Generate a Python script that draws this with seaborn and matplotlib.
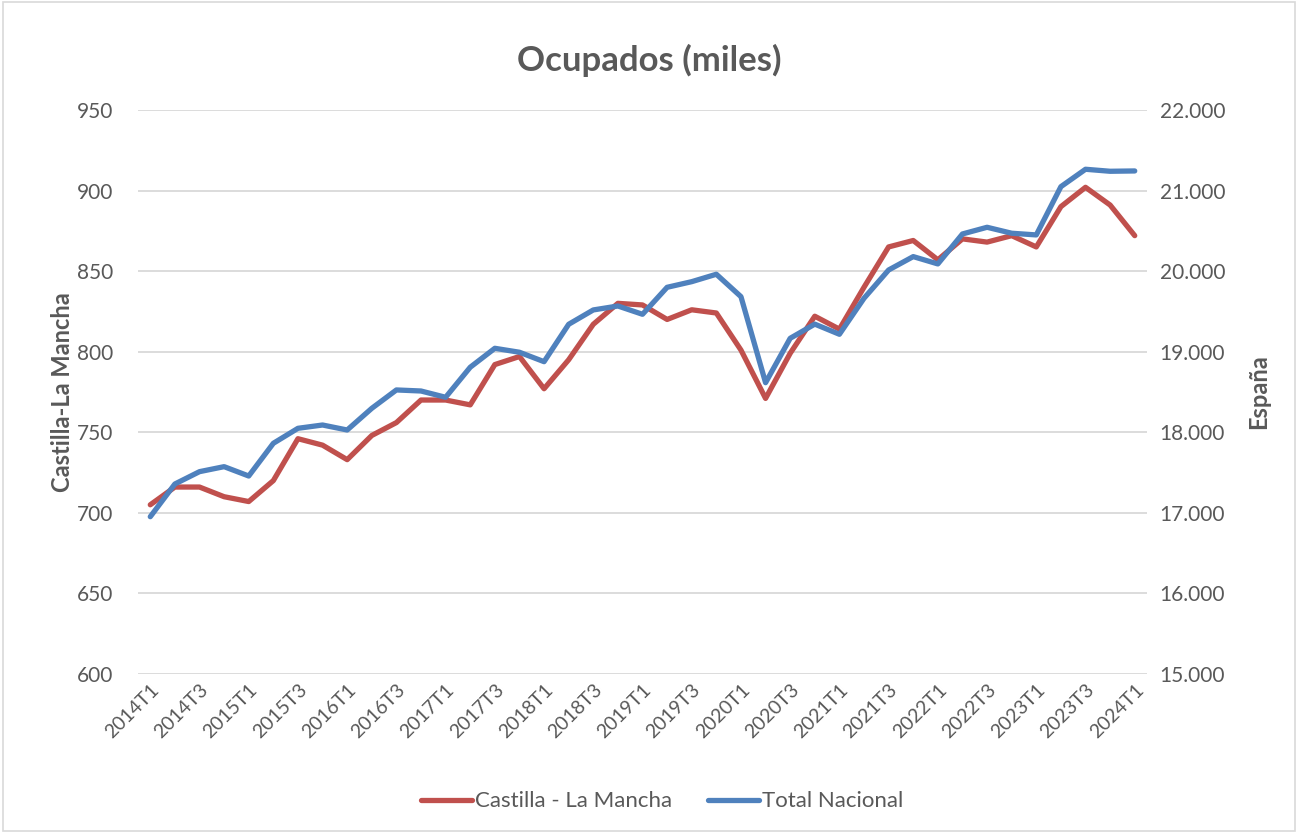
import numpy as np
import pandas as pd
import matplotlib
matplotlib.use('Agg')
import matplotlib.pyplot as plt
import seaborn as sns
from matplotlib.patches import Rectangle
from matplotlib.ticker import FuncFormatter

periodos = ['{}T{}'.format(a, t) for a in range(2014, 2025) for t in range(1, 5)][:41]
clm = [705, 716, 716, 710, 707, 720, 746, 742, 733, 748, 756, 770, 770, 767, 792,
       797, 777, 795, 817, 830, 829, 820, 826, 824, 801, 771, 799, 822, 814, 840,
       865, 869, 857, 870, 868, 872, 865, 890, 902, 891, 872]
nacional = [16952, 17358, 17511, 17573, 17457, 17863, 18049, 18090, 18028, 18297, 18525,
            18512, 18434, 18807, 19042, 18993, 18876, 19340, 19518, 19567, 19464, 19799,
            19869, 19961, 19683, 18615, 19166, 19342, 19216, 19663, 20014, 20180, 20089,
            20461, 20544, 20470, 20449, 21048, 21264, 21239, 21243]

df = pd.DataFrame({'periodo': periodos, 'clm': clm, 'nacional': nacional})
df['pos'] = np.arange(len(df))

sns.set_theme(style='white')
plt.rcParams['font.family'] = ['Lato', 'DejaVu Sans']
gris = '#595959'
rojo = '#C0504D'
azul = '#4F81BD'

fig = plt.figure(figsize=(12.98, 8.33), dpi=100)
ax = fig.add_axes([0.1063, 0.1909, 0.7774, 0.6771])
ax2 = ax.twinx()

sns.lineplot(data=df, x='pos', y='clm', ax=ax, color=rojo, linewidth=3.8,
             label='Castilla - La Mancha', legend=False)
sns.lineplot(data=df, x='pos', y='nacional', ax=ax2, color=azul, linewidth=3.8,
             label='Total Nacional', legend=False)

ax.set_xlim(-0.5, 40.5)
ax.set_ylim(600, 950)
ax2.set_ylim(15000, 22000)
ax.set_yticks(range(600, 951, 50))
ax2.set_yticks(range(15000, 22001, 1000))
ax2.yaxis.set_major_formatter(FuncFormatter(lambda v, p: '{:,.0f}'.format(v).replace(',', '.')))
ax.set_xticks(df['pos'][::2])
ax.set_xticklabels(df['periodo'][::2], rotation=45, ha='right', rotation_mode='anchor')

ax.grid(axis='y', color='#D9D9D9', linewidth=1.3)
ax.grid(axis='x', visible=False)
ax2.grid(False)
for a in (ax, ax2):
    for s in a.spines.values():
        s.set_visible(False)
    a.tick_params(length=0, labelsize=15, colors=gris, pad=9)
ax.tick_params(axis='y', pad=18)
ax.tick_params(axis='x', pad=5, labelsize=14)

ax.set_xlabel('')
ax.set_ylabel('Castilla-La Mancha', fontsize=17, fontweight='bold', color=gris, labelpad=2)
ax2.set_ylabel('España', fontsize=17, fontweight='bold', color=gris, labelpad=16)
ax.set_zorder(1)
ax2.set_zorder(2)
ax2.patch.set_visible(False)

fig.suptitle('Ocupados (miles)', y=0.947, fontsize=25, fontweight='bold', color=gris)

h1, l1 = ax.get_legend_handles_labels()
h2, l2 = ax2.get_legend_handles_labels()
fig.legend(h1 + h2, l1 + l2, loc='center', bbox_to_anchor=(0.51, 0.038), ncol=2,
           frameon=False, fontsize=16, labelcolor=gris, handlelength=2.3,
           handletextpad=0.15, columnspacing=1.6)

fig.patches.append(Rectangle((0.002, 0.002), 0.996, 0.996, transform=fig.transFigure,
                             fill=False, edgecolor='#D9D9D9', linewidth=1.2))
fig.savefig('out.png', dpi=100)
